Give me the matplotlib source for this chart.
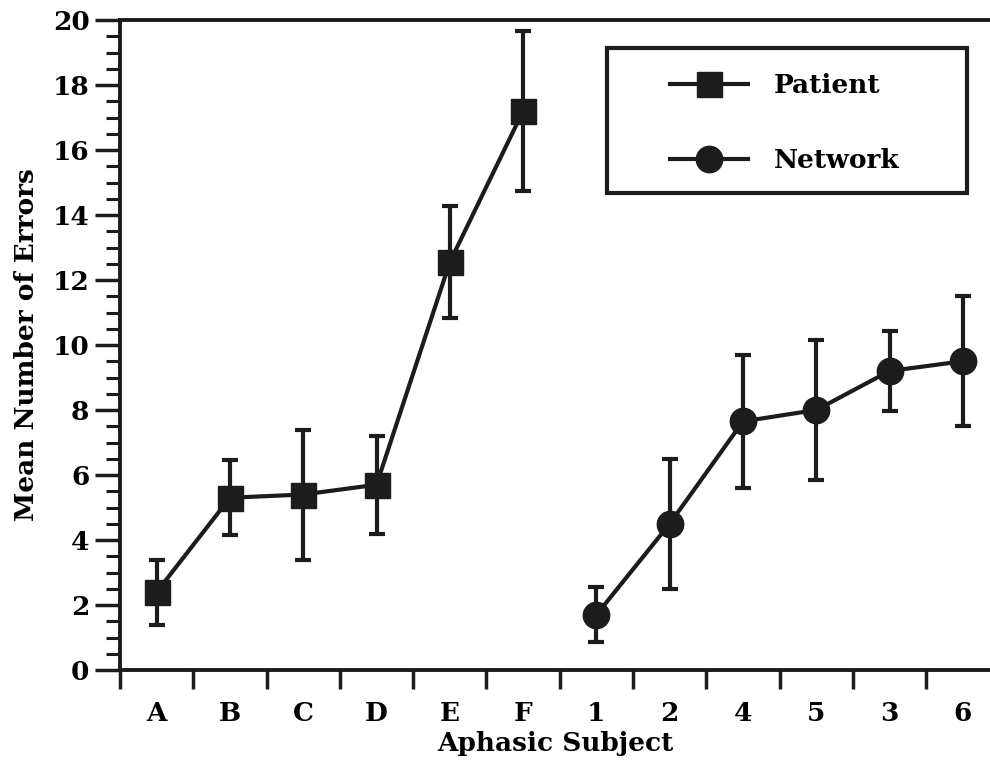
import matplotlib
matplotlib.use('Agg')
from matplotlib import pyplot as plt
from matplotlib.ticker import MultipleLocator
from matplotlib.lines import Line2D
from matplotlib.patches import Rectangle

# data
categories = ['A', 'B', 'C', 'D', 'E', 'F', '1', '2', '4', '5', '3', '6']
patient_mean = [2.4, 5.3, 5.4, 5.7, 12.55, 17.2]
patient_err = [1.0, 1.15, 2.0, 1.5, 1.72, 2.45]
network_mean = [1.7, 4.5, 7.65, 8.0, 9.2, 9.5]
network_err = [0.85, 2.0, 2.05, 2.15, 1.23, 2.0]

ink = '#1c1c1c'
lw = 3.0
plt.rcParams['font.family'] = ['DejaVu Serif']
plt.rcParams['font.weight'] = 'bold'

fig = plt.figure(figsize=(9.9, 7.68), dpi=100)
ax = fig.add_axes([120/990, 1 - 670/768, 870/990, 650/768])

px = list(range(6))
nx = list(range(6, 12))

ax.errorbar(px, patient_mean, yerr=patient_err, color=ink, lw=lw,
            marker='s', ms=18, mfc=ink, mec=ink, capsize=6, capthick=lw,
            elinewidth=lw, clip_on=False)
ax.errorbar(nx, network_mean, yerr=network_err, color=ink, lw=lw,
            marker='o', ms=19, mfc=ink, mec=ink, capsize=6, capthick=lw,
            elinewidth=lw, clip_on=False)

ax.set_xlim(-0.5, 11.37)
ax.set_ylim(0, 20)

ax.set_xticks([i - 0.5 for i in range(12)])
ax.set_xticklabels([])
ax.set_xticks(range(12), minor=True)
ax.set_xticklabels(categories, minor=True, fontsize=19, fontweight='bold')
ax.tick_params(axis='x', which='major', direction='out', length=14, width=2.5, color=ink)
ax.tick_params(axis='x', which='minor', length=0, pad=22)

ax.yaxis.set_major_locator(MultipleLocator(2))
ax.yaxis.set_minor_locator(MultipleLocator(0.5))
ax.tick_params(axis='y', which='major', direction='out', length=18, width=2.5,
               color=ink, labelsize=19, pad=4)
ax.tick_params(axis='y', which='minor', direction='out', length=10, width=2.2, color=ink)
for lab in ax.get_yticklabels():
    lab.set_fontweight('bold')

for side in ['left', 'bottom', 'top']:
    ax.spines[side].set_linewidth(2.8)
    ax.spines[side].set_color(ink)
ax.spines['right'].set_visible(False)

ax.set_ylabel('Mean Number of Errors', fontsize=19, fontweight='bold', labelpad=10)
ax.set_xlabel('Aphasic Subject', fontsize=19, fontweight='bold', labelpad=4)

# legend: frame drawn by hand, entries placed inside it
fig.patches.append(Rectangle((607/990, 1 - 193/768), 360/990, 145/768,
                             transform=fig.transFigure, fill=False,
                             edgecolor=ink, lw=3.0))
handles = [Line2D([], [], color=ink, lw=lw, marker='s', ms=18, mfc=ink, mec=ink),
           Line2D([], [], color=ink, lw=lw, marker='o', ms=19, mfc=ink, mec=ink)]
leg = ax.legend(handles, ['Patient', 'Network'], loc='upper left',
                bbox_to_anchor=(670/990, 1 - 73/768), bbox_transform=fig.transFigure,
                frameon=False, handlelength=2.95, borderpad=0, labelspacing=1.9,
                handletextpad=1.0, borderaxespad=0,
                prop={'weight': 'bold', 'size': 19})

fig.savefig('out.png', dpi=100)
